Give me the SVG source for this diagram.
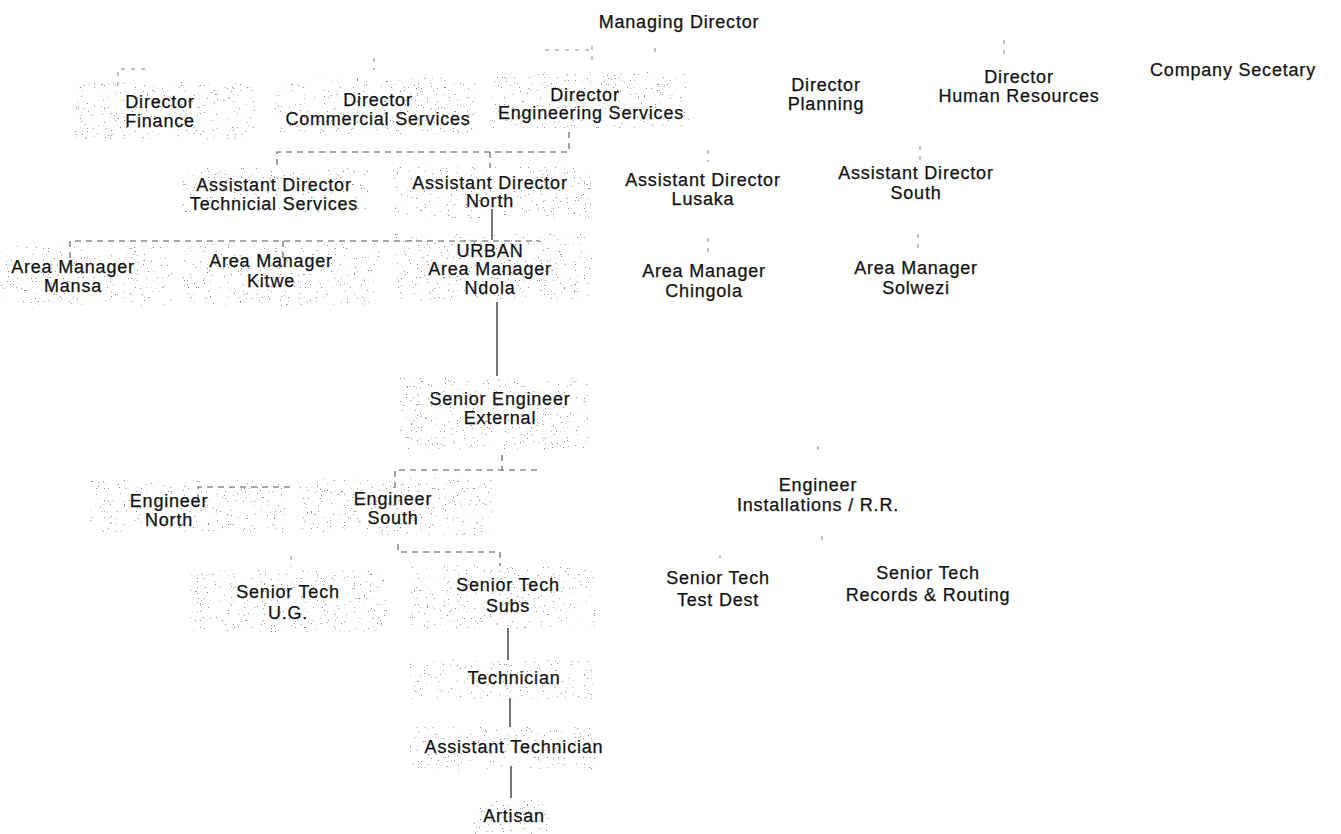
<svg xmlns="http://www.w3.org/2000/svg" width="1341" height="834" viewBox="0 0 1341 834">
  <style>
    .bg { fill: #ffffff; }
    .lbl { font-family: "Liberation Sans", Arial, sans-serif; font-size: 18px; letter-spacing: 0.8px; fill: #111; stroke: #111; stroke-width: 0.25; text-anchor: middle; }
    .grain { fill: #000; filter: url(#speckle); }
    .dash { fill: none; stroke: #555; stroke-width: 1.1; stroke-dasharray: 6 5; }
    .faint { fill: none; stroke: #8a8a8a; stroke-width: 1; stroke-dasharray: 4 6; }
    .solid { fill: none; stroke: #2a2a2a; stroke-width: 1.3; }
  </style>
  <defs>
    <!-- scattered grey dots used as the halftone shading behind boxes -->
    <filter id="speckle" x="0" y="0" width="1" height="1" color-interpolation-filters="sRGB">
      <feTurbulence type="fractalNoise" baseFrequency="0.7" numOctaves="2" seed="11" result="noise"/>
      <feColorMatrix in="noise" type="matrix" values="0 0 0 0 0.55  0 0 0 0 0.55  0 0 0 0 0.55  30 0 0 0 -21.9" result="dots"/>
      <feComposite in="dots" in2="SourceGraphic" operator="in"/>
    </filter>
  </defs>

  <rect class="bg" x="0" y="0" width="1341" height="834"/>

  <!-- reporting lines -->
  <g id="connectors">
    <!-- top level -->
    <path class="faint" d="M118,86 V69 H150"/>
    <path class="faint" d="M374,58 V70"/>
    <path class="faint" d="M545,50 H592 M592,46 V64"/>
    <path class="faint" d="M655,48 V52"/>
    <path class="faint" d="M1004,40 V54"/>
    <!-- engineering services to assistant directors -->
    <path class="dash" d="M569,132 V152 H277 V170"/>
    <path class="dash" d="M490,152 V168"/>
    <path class="faint" d="M708,150 V162"/>
    <path class="faint" d="M920,146 V160"/>
    <!-- assistant director north to area managers -->
    <path class="solid" d="M492,209 V240"/>
    <path class="dash" d="M70,258 V241 H540"/>
    <path class="dash" d="M283,241 V258"/>
    <path class="faint" d="M708,238 V252"/>
    <path class="faint" d="M918,234 V248"/>
    <!-- ndola to senior engineer -->
    <path class="solid" d="M497,302 V376"/>
    <!-- senior engineer to engineers -->
    <path class="dash" d="M502,455 V470 M395,488 V470 H540"/>
    <path class="dash" d="M198,500 V487 H290"/>
    <path class="faint" d="M818,446 V450 M822,536 V540"/>
    <!-- engineer south to senior techs -->
    <path class="dash" d="M398,544 V552 H500 V566"/>
    <path class="faint" d="M291,556 V567"/>
    <path class="faint" d="M720,555 V558"/>
    <!-- down the line -->
    <path class="solid" d="M508,628 V660"/>
    <path class="solid" d="M510,698 V727"/>
    <path class="solid" d="M511,766 V798"/>
  </g>

  <g id="managing-director">
    <text class="lbl" x="679" y="28">Managing Director</text>
  </g>

  <g id="director-finance">
    <rect class="grain" x="75" y="82" width="180" height="58"/>
    <text class="lbl" x="160" y="108">Director</text>
    <text class="lbl" x="160" y="127">Finance</text>
  </g>

  <g id="director-commercial">
    <rect class="grain" x="275" y="78" width="200" height="56"/>
    <text class="lbl" x="378" y="106">Director</text>
    <text class="lbl" x="378" y="125">Commercial Services</text>
  </g>

  <g id="director-engineering">
    <rect class="grain" x="490" y="72" width="200" height="56"/>
    <text class="lbl" x="585" y="101">Director</text>
    <text class="lbl" x="591" y="119">Engineering Services</text>
  </g>

  <g id="director-planning">
    <text class="lbl" x="826" y="91">Director</text>
    <text class="lbl" x="826" y="110">Planning</text>
  </g>

  <g id="director-hr">
    <text class="lbl" x="1019" y="83">Director</text>
    <text class="lbl" x="1019" y="102">Human Resources</text>
  </g>

  <g id="company-secretary">
    <text class="lbl" x="1233" y="76">Company Secetary</text>
  </g>

  <g id="ad-technical">
    <rect class="grain" x="182" y="168" width="186" height="44"/>
    <text class="lbl" x="274" y="191">Assistant Director</text>
    <text class="lbl" x="274" y="210">Technicial Services</text>
  </g>

  <g id="ad-north">
    <rect class="grain" x="393" y="166" width="199" height="52"/>
    <text class="lbl" x="490" y="189">Assistant Director</text>
    <text class="lbl" x="490" y="207">North</text>
  </g>

  <g id="ad-lusaka">
    <text class="lbl" x="703" y="186">Assistant Director</text>
    <text class="lbl" x="703" y="205">Lusaka</text>
  </g>

  <g id="ad-south">
    <text class="lbl" x="916" y="179">Assistant Director</text>
    <text class="lbl" x="916" y="199">South</text>
  </g>

  <g id="am-mansa">
    <rect class="grain" x="0" y="246" width="172" height="60"/>
    <text class="lbl" x="73" y="273">Area Manager</text>
    <text class="lbl" x="73" y="292">Mansa</text>
  </g>

  <g id="am-kitwe">
    <rect class="grain" x="182" y="244" width="198" height="62"/>
    <text class="lbl" x="271" y="267">Area Manager</text>
    <text class="lbl" x="271" y="287">Kitwe</text>
  </g>

  <g id="am-ndola">
    <rect class="grain" x="395" y="234" width="197" height="66"/>
    <text class="lbl" x="490" y="257">URBAN</text>
    <text class="lbl" x="490" y="275">Area Manager</text>
    <text class="lbl" x="490" y="294">Ndola</text>
  </g>

  <g id="am-chingola">
    <text class="lbl" x="704" y="277">Area Manager</text>
    <text class="lbl" x="704" y="297">Chingola</text>
  </g>

  <g id="am-solwezi">
    <text class="lbl" x="916" y="274">Area Manager</text>
    <text class="lbl" x="916" y="294">Solwezi</text>
  </g>

  <g id="senior-engineer-external">
    <rect class="grain" x="400" y="378" width="190" height="72"/>
    <text class="lbl" x="500" y="405">Senior Engineer</text>
    <text class="lbl" x="500" y="424">External</text>
  </g>

  <g id="engineer-north">
    <rect class="grain" x="90" y="480" width="195" height="52"/>
    <text class="lbl" x="169" y="507">Engineer</text>
    <text class="lbl" x="169" y="526">North</text>
  </g>

  <g id="engineer-south">
    <rect class="grain" x="300" y="478" width="192" height="57"/>
    <text class="lbl" x="393" y="505">Engineer</text>
    <text class="lbl" x="393" y="524">South</text>
  </g>

  <g id="engineer-installations">
    <text class="lbl" x="818" y="491">Engineer</text>
    <text class="lbl" x="818" y="511">Installations / R.R.</text>
  </g>

  <g id="senior-tech-ug">
    <rect class="grain" x="190" y="570" width="198" height="62"/>
    <text class="lbl" x="288" y="598">Senior Tech</text>
    <text class="lbl" x="288" y="619">U.G.</text>
  </g>

  <g id="senior-tech-subs">
    <rect class="grain" x="410" y="565" width="185" height="63"/>
    <text class="lbl" x="508" y="591">Senior Tech</text>
    <text class="lbl" x="508" y="612">Subs</text>
  </g>

  <g id="senior-tech-test">
    <text class="lbl" x="718" y="584">Senior Tech</text>
    <text class="lbl" x="718" y="606">Test Dest</text>
  </g>

  <g id="senior-tech-records">
    <text class="lbl" x="928" y="579">Senior Tech</text>
    <text class="lbl" x="928" y="601">Records &amp; Routing</text>
  </g>

  <g id="technician">
    <rect class="grain" x="410" y="660" width="185" height="40"/>
    <text class="lbl" x="514" y="684">Technician</text>
  </g>

  <g id="assistant-technician">
    <rect class="grain" x="410" y="727" width="185" height="43"/>
    <text class="lbl" x="514" y="753">Assistant Technician</text>
  </g>

  <g id="artisan">
    <rect class="grain" x="474" y="800" width="74" height="34"/>
    <text class="lbl" x="514" y="822">Artisan</text>
  </g>
</svg>
